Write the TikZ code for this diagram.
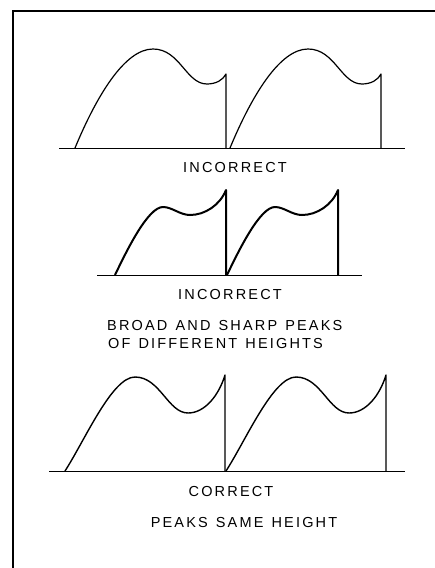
\documentclass[tikz,border=0pt]{standalone}
\usepackage{fontspec}
\setmainfont{Liberation Sans}
\newfontfamily\lblfont[LetterSpace=15,WordSpace=1.3]{Liberation Sans}
\begin{document}
\begin{tikzpicture}[x=1pt,y=-1pt,
  lbl/.style={font=\lblfont\fontsize{14.5}{17}\selectfont, inner sep=0pt},
  base/.style={line width=0.9pt},
  wthin/.style={line width=1.2pt, line join=round},
  wthick/.style={line width=2pt, line join=round},
  wmid/.style={line width=1.4pt, line join=round}]
\useasboundingbox (0,0) rectangle (435,568);
% frame
\draw[line width=1.2pt] (13,568) -- (13,11) -- (435,11);

% ---- wave 1 ----
\draw[base] (59,148) -- (405,148);
\foreach \s in {0,155}{
  \draw[wthin, xshift=\s] (75,148) .. controls (97,95) and (125,49) .. (153,49)
     .. controls (180,49) and (186,84) .. (207,84)
     .. controls (216,84) and (223,80) .. (226,74) -- (226,148);
}
\node[lbl] (l1) at (235,168) {INCORRECT};

% ---- wave 2 ----
\draw[base] (97,275) -- (362,275);
\foreach \s in {0,112}{
  \draw[wthick, xshift=\s] (115,275) .. controls (127,250) and (148,207) .. (163,207)
     .. controls (172,207) and (180,215) .. (190,215)
     .. controls (205,215) and (220,205) .. (226,190) -- (226,275);
}
\node[lbl] (l2) at (230,295) {INCORRECT};
\node[lbl, anchor=west] (l3) at (107,326) {BROAD AND SHARP PEAKS};
\node[lbl, anchor=west] (l4) at (108,344) {OF DIFFERENT HEIGHTS};

% ---- wave 3 ----
\draw[base] (49,471) -- (405,471);
\foreach \s in {0,161}{
  \draw[wmid, xshift=\s] (65,471) .. controls (85,440) and (112,377) .. (135,377)
     .. controls (160,377) and (168,413) .. (188,413)
     .. controls (205,413) and (219,395) .. (225,375) -- (225,471);
}
\node[lbl] (l5) at (231,492) {CORRECT};
\node[lbl] (l6) at (244,523) {PEAKS SAME HEIGHT};
\end{tikzpicture}
\end{document}
